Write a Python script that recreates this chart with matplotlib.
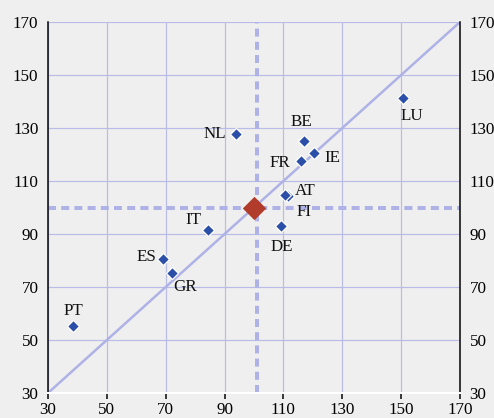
import matplotlib
matplotlib.use("Agg")
import matplotlib.pyplot as plt

countries = ["NL", "BE", "IE", "FR", "LU", "FI", "AT", "DE", "IT", "ES", "GR", "PT"]
x_vals = [93.8, 117.1, 120.4, 115.9, 150.6, 111.4, 110.6, 109.2, 84.5, 69.1, 72.1, 38.5]
y_vals = [127.6, 125.1, 120.4, 117.5, 141.3, 104.5, 104.8, 93.1, 91.5, 80.6, 75.3, 55.2]
# label offsets in points (dx, dy) and alignment
label_pos = {
    "NL": (-10, 0, "right", "center"),
    "BE": (-3, 11, "center", "bottom"),
    "IE": (10, -5, "left", "center"),
    "FR": (-10, -2, "right", "center"),
    "LU": (9, -18, "center", "center"),
    "AT": (10, 4, "left", "center"),
    "FI": (9, -16, "left", "center"),
    "DE": (1, -21, "center", "center"),
    "IT": (-7, 10, "right", "center"),
    "ES": (-7, 2, "right", "center"),
    "GR": (1, -14, "left", "center"),
    "PT": (0, 15, "center", "center"),
}
ref_x, ref_y = 100, 100
vline_x = 101
hline_y = 100
ticks = [30, 50, 70, 90, 110, 130, 150, 170]

bg = "#efefef"
grid_c = "#b8bce6"
line_c = "#aeb2e6"
blue = "#2b4ea8"
red = "#b23c2b"

plt.rcParams["font.family"] = ["Liberation Serif", "DejaVu Serif"]

fig = plt.figure(figsize=(494 / 72, 418 / 72), dpi=72, facecolor=bg)
ax = fig.add_axes([48 / 494, 1 - 393 / 418, 412 / 494, 371 / 418], facecolor=bg)
ax.set_xlim(30, 170)
ax.set_ylim(30, 170)
ax.set_xticks(ticks)
ax.set_yticks(ticks)
ax.grid(True, color=grid_c, linewidth=1.2, zorder=0)
ax.set_axisbelow(True)

ax.plot([30, 170], [30, 170], color=line_c, linewidth=2.5, zorder=1)
ax.axvline(vline_x, color=line_c, linewidth=4, dashes=(2, 1.3), zorder=1)
ax.axhline(hline_y, color=line_c, linewidth=4, dashes=(2, 1.3), zorder=1)

ax.plot(x_vals, y_vals, linestyle="none", marker="D", markersize=9,
        markerfacecolor=blue, markeredgecolor="white", markeredgewidth=1.2, zorder=3)
ax.plot([ref_x], [ref_y], linestyle="none", marker="D", markersize=16,
        markerfacecolor=red, markeredgecolor=red, zorder=4)

for c, xv, yv in zip(countries, x_vals, y_vals):
    dx, dy, ha, va = label_pos[c]
    ax.annotate(c, (xv, yv), xytext=(dx, dy), textcoords="offset points",
                ha=ha, va=va, fontsize=17, color="#111111", zorder=5)

ax.spines["top"].set_visible(False)
ax.spines["left"].set_color("black")
ax.spines["right"].set_color("black")
ax.spines["left"].set_linewidth(1.5)
ax.spines["right"].set_linewidth(1.5)
ax.spines["bottom"].set_color("white")
ax.spines["bottom"].set_linewidth(2)

ax.tick_params(axis="x", direction="out", length=6, width=1.5, color="black",
               labelsize=17, pad=3)
ax.tick_params(axis="y", which="both", left=False, right=False,
               labelleft=True, labelright=True, labelsize=17, pad=6)

fig.savefig("out.png", dpi=72, facecolor=bg)
